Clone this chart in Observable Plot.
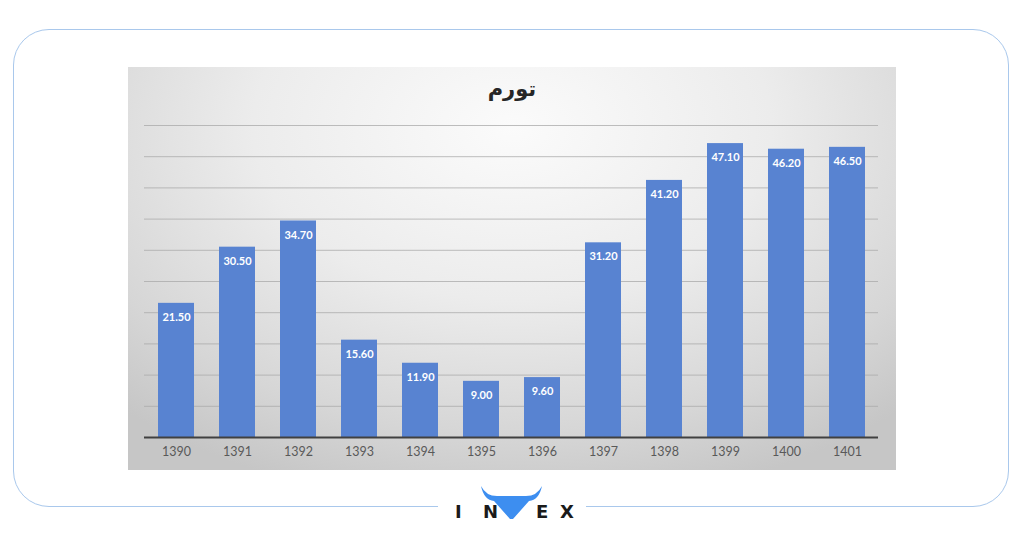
<!DOCTYPE html>
<html>
<head>
<meta charset="utf-8">
<script src="https://cdn.jsdelivr.net/npm/d3@7"></script>
<script src="https://cdn.jsdelivr.net/npm/@observablehq/plot@0.6"></script>
<style>
  html, body { margin: 0; padding: 0; background: #ffffff; }
  #page { position: relative; width: 1024px; height: 538px; overflow: hidden; background: #fff; }
  #frame { position: absolute; left: 13px; top: 29px; width: 996px; height: 478px;
           border: 1.5px solid #a9c8ec; border-radius: 36px; box-sizing: border-box; }
  #gap { position: absolute; left: 438px; top: 500px; width: 148px; height: 16px; background: #fff; }
  #chartbox { position: absolute; left: 128px; top: 67px; width: 768px; height: 403px;
              background: radial-gradient(ellipse 75% 95% at 50% 15%, #fbfbfb 0%, #ececec 45%, #d6d6d6 80%, #c6c6c6 100%); }
  #title { position: absolute; left: 0; width: 768px; top: 10px; text-align: center;
           font-family: "DejaVu Sans", sans-serif; font-size: 21px; font-weight: bold; color: #262626; direction: rtl; }
  #chart { position: absolute; left: 0; top: 0; }
  #logo { position: absolute; left: 440px; top: 484px; width: 144px; height: 44px;
          font-family: "DejaVu Sans", sans-serif; font-weight: bold; font-size: 18px; color: #1a1a1a; }
  #logo span { position: absolute; top: 17px; }
</style>
</head>
<body>
<div id="page">
  <div id="frame"></div>
  <div id="gap"></div>
  <div id="chartbox">
    <div id="chart"></div>
    <div id="title">تورم</div>
  </div>
  <div id="logo">
    <svg width="144" height="44" style="position:absolute;left:0;top:0">
      <path d="M41 2 Q46 12 57 12 L86 12 Q97 12 102 2 Q99 16 89 17 L73 35 L70 35 L54 17 Q44 16 41 2 Z" fill="#3d8ef0"/>
    </svg>
    <span style="left:15px">I</span>
    <span style="left:43px">N</span>
    <span style="left:96px">E</span>
    <span style="left:120px">X</span>
  </div>
</div>
<script>
const years = ["1390","1391","1392","1393","1394","1395","1396","1397","1398","1399","1400","1401"];
const inflation = [21.5, 30.5, 34.7, 15.6, 11.9, 9.0, 9.6, 31.2, 41.2, 47.1, 46.2, 46.5];
const gridValues = [5, 10, 15, 20, 25, 30, 35, 40, 45, 50];

const data = years.map((y, i) => ({year: y, value: inflation[i]}));

const plot = Plot.plot({
  width: 768,
  height: 403,
  marginLeft: 16,
  marginRight: 18,
  marginTop: 58,
  marginBottom: 33,
  style: {background: "transparent", overflow: "visible"},
  x: {domain: years, paddingInner: 0.41, paddingOuter: 0.205, label: null},
  y: {domain: [0, 50], axis: null},
  marks: [
    Plot.ruleY(gridValues, {stroke: "#a8a8a8", strokeWidth: 1, strokeOpacity: 0.75}),
    Plot.barY(data, {x: "year", y: "value", fill: "#5883d1"}),
    Plot.text(data, {x: "year", y: "value", text: d => d.value.toFixed(2), dy: 14,
      fill: "#ffffff", fontWeight: "bold", fontSize: 11, fontFamily: "Lato, sans-serif"}),
    Plot.ruleY([0], {stroke: "#404040", strokeWidth: 2}),
    Plot.axisX({tickSize: 0, tickPadding: 10, fontSize: 12.5, fill: "#595959", fontFamily: "Lato, sans-serif", label: null})
  ]
});
document.getElementById("chart").appendChild(plot);
</script>
</body>
</html>
